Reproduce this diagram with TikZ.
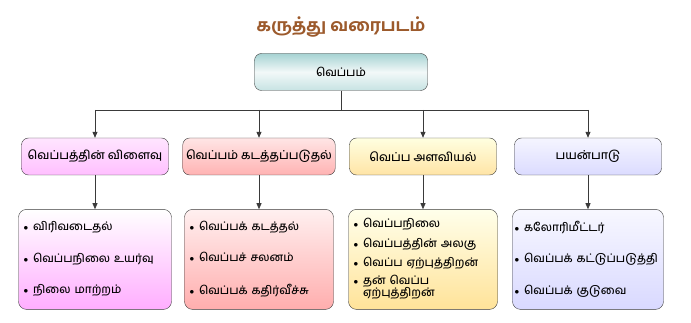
\documentclass[tikz,border=0pt]{standalone}
\usepackage{fontspec}
\setmainfont{Hind Madurai}[Script=Tamil, UprightFont=* Medium, BoldFont=* Bold]
\usetikzlibrary{arrows.meta,positioning}
\definecolor{titlebrown}{HTML}{9C5A2C}
\definecolor{edgegray}{HTML}{3A3A3A}

\begin{document}
\begin{tikzpicture}[x=1pt,y=-1pt,
  topbox/.style={draw=edgegray, rounded corners=7pt, minimum width=173pt, minimum height=37pt, top color=teal!35!white, bottom color=teal!22!white, middle color=teal!5!white, font=\fontsize{11.5}{13}\selectfont},
  headbox/.style={draw=edgegray, rounded corners=7pt, minimum width=147pt, minimum height=37pt, font=\fontsize{12}{14}\selectfont},
  listbox/.style={draw=edgegray, rounded corners=8pt, minimum height=100pt, inner xsep=5pt, align=left, font=\fontsize{11.5}{13.5}\selectfont},
  arr/.style={-{Triangle[length=6pt,width=5pt]}, thick, edgegray}
]
\useasboundingbox (0,0) rectangle (691,323);

\node[topbox] (top) at (341,72) {வெப்பம்};
\node[above=13pt of top, font=\fontsize{17}{20}\selectfont\bfseries, text=titlebrown] (title) {கருத்து வரைபடம்};

% second row
\node[headbox, top color=magenta!10!white, bottom color=magenta!25!white] (h1) at (95,156.5) {வெப்பத்தின் விளைவு};
\node[headbox, top color=red!10!white, bottom color=red!30!white] (h2) at (259,156.5) {வெப்பம் கடத்தப்படுதல்};
\node[headbox, top color=yellow!12!white, bottom color=yellow!40!orange!35!white] (h3) at (423,156.5) {வெப்ப அளவியல்};
\node[headbox, top color=blue!4!white, bottom color=blue!14!white] (h4) at (588,156.5) {பயன்பாடு};

% third row
\node[listbox, minimum width=153pt, text width=143pt, below=34pt of h1, top color=white, bottom color=magenta!32!white] (l1) {%
\begin{tabular}{@{}l@{\hspace{5pt}}l@{}}
{\small$\bullet$} & விரிவடைதல்\\[18pt]
{\small$\bullet$} & வெப்பநிலை உயர்வு\\[18pt]
{\small$\bullet$} & நிலை மாற்றம்
\end{tabular}};
\node[listbox, minimum width=149pt, text width=139pt, below=34pt of h2, top color=red!6!white, bottom color=red!32!white] (l2) {%
\begin{tabular}{@{}l@{\hspace{5pt}}l@{}}
{\small$\bullet$} & வெப்பக் கடத்தல்\\[18pt]
{\small$\bullet$} & வெப்பச் சலனம்\\[18pt]
{\small$\bullet$} & வெப்பக் கதிர்வீச்சு
\end{tabular}};
\node[listbox, minimum width=149pt, text width=139pt, below=34pt of h3, top color=yellow!8!white, bottom color=yellow!45!orange!40!white] (l3) {%
\begin{tabular}{@{}l@{\hspace{5pt}}l@{}}
{\small$\bullet$} & வெப்பநிலை\\[6pt]
{\small$\bullet$} & வெப்பத்தின் அலகு\\[6pt]
{\small$\bullet$} & வெப்ப ஏற்புத்திறன்\\[4pt]
{\small$\bullet$} & தன் வெப்ப\\[-1pt]
 & ஏற்புத்திறன்
\end{tabular}};
\node[listbox, minimum width=151pt, text width=147pt, inner xsep=2pt, below=34pt of h4, top color=blue!3!white, bottom color=blue!15!white] (l4) {%
\begin{tabular}{@{}l@{\hspace{5pt}}l@{}}
{\small$\bullet$} & கலோரிமீட்டர்\\[18pt]
{\small$\bullet$} & வெப்பக் கட்டுப்படுத்தி\\[18pt]
{\small$\bullet$} & வெப்பக் குடுவை
\end{tabular}};

% connectors
\coordinate (bus) at (341,110);
\draw[thick, edgegray] (top.south) -- (bus);
\draw[thick, edgegray] (bus -| h1) -- (bus -| h4);
\foreach \i in {1,...,4} {
  \draw[arr] (bus -| h\i) -- (h\i.north);
  \draw[arr] (h\i.south) -- (l\i.north);
}
\end{tikzpicture}
\end{document}
